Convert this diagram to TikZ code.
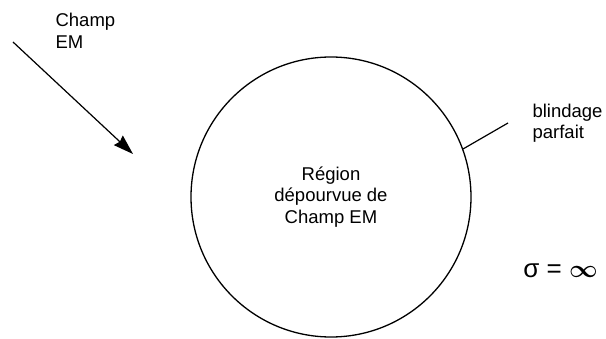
\documentclass[tikz,border=0pt]{standalone}
\usepackage{fontspec}
\setmainfont{Liberation Sans}
\usetikzlibrary{arrows.meta}
\tikzset{
  every picture/.style={line width=1.2pt},
  lbl/.style={font=\fontsize{18.5}{21.5}\selectfont, align=left, inner sep=0pt},
  zone/.style={circle, draw, line width=1.3pt, minimum size=280pt, inner sep=0pt,
    align=center, font=\fontsize{18.5}{21.5}\selectfont},
  arrow/.style={-{Stealth[length=20pt, width=13pt, inset=2pt]}, line width=1.2pt},
}
\begin{document}
\begin{tikzpicture}[x=1pt, y=-1pt]
  \useasboundingbox (0,0) rectangle (606,339);
  % shielded region
  \node[zone] (region) at (331,197) {Région\\dépourvue de\\Champ EM};
  % incoming field
  \node[lbl, anchor=north west] (field) at (55,12.5) {Champ\\EM};
  \coordinate (src) at (13,42);
  \coordinate (dst) at (133,154);
  \draw[arrow] (src) -- (dst);
  % shield label
  \node[lbl, anchor=north west] (shield) at (532,103) {blindage\\parfait};
  \coordinate (tip) at (508,123);
  \draw (region.20) -- (tip);
  % conductivity
  \node[font=\fontsize{26}{28}\selectfont, inner sep=0pt] (sigma) at (560.5,271) {σ = {\boldmath$\infty$}};
\end{tikzpicture}
\end{document}
